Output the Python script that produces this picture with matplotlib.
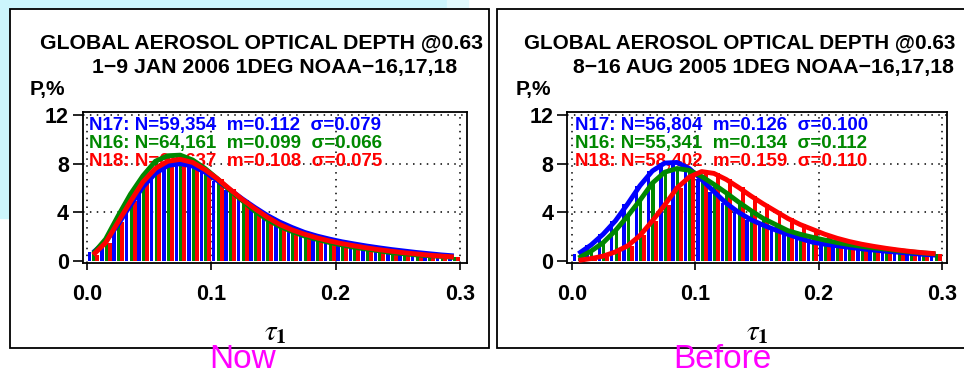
import matplotlib.pyplot as plt
from matplotlib.patches import Rectangle

plt.rcParams['font.family'] = 'Liberation Sans'
plt.rcParams['mathtext.fontset'] = 'stix'

W, H = 964, 375

# bin centres (tau_1)
tau = [0.005, 0.015, 0.025, 0.035, 0.045, 0.055, 0.065, 0.075, 0.085, 0.095,
       0.105, 0.115, 0.125, 0.135, 0.145, 0.155, 0.165, 0.175, 0.185, 0.195,
       0.205, 0.215, 0.225, 0.235, 0.245, 0.255, 0.265, 0.275, 0.285, 0.295]

# Now: 1-9 Jan 2006, P in %
now_n17 = [0.7, 1.6, 3.0, 4.6, 6.1, 7.2, 7.85, 8.0, 7.8, 7.3,
           6.6, 5.85, 5.1, 4.4, 3.75, 3.2, 2.75, 2.35, 2.05, 1.8,
           1.58, 1.4, 1.23, 1.08, 0.94, 0.82, 0.7, 0.6, 0.5, 0.42]
now_n16 = [0.6, 1.8, 3.7, 5.5, 7.0, 8.2, 8.65, 8.7, 8.3, 7.6,
           6.75, 5.8, 4.95, 4.1, 3.4, 2.85, 2.42, 2.05, 1.78, 1.52,
           1.32, 1.12, 0.98, 0.84, 0.68, 0.6, 0.5, 0.44, 0.38, 0.3]
now_n18 = [0.5, 1.5, 3.2, 4.9, 6.5, 7.6, 8.2, 8.35, 8.1, 7.5,
           6.75, 5.9, 5.05, 4.3, 3.6, 3.0, 2.55, 2.2, 1.9, 1.65,
           1.43, 1.25, 1.08, 0.93, 0.8, 0.68, 0.58, 0.48, 0.4, 0.33]

# Before: 8-16 Aug 2005
bef_n17 = [0.6, 1.3, 2.2, 3.3, 4.7, 6.2, 7.4, 8.05, 8.1, 7.6,
           6.7, 5.7, 4.75, 4.0, 3.4, 2.95, 2.55, 2.2, 1.85, 1.55,
           1.38, 1.25, 1.12, 1.0, 0.9, 0.8, 0.72, 0.63, 0.55, 0.48]
bef_n16 = [0.25, 0.8, 1.5, 2.5, 3.7, 5.0, 6.4, 7.3, 7.6, 7.45,
           6.95, 6.3, 5.6, 4.85, 4.15, 3.5, 3.0, 2.5, 2.2, 1.95,
           1.72, 1.52, 1.35, 1.2, 1.08, 0.97, 0.85, 0.75, 0.66, 0.58]
bef_n18 = [0.05, 0.2, 0.4, 0.75, 1.25, 2.1, 3.3, 4.6, 6.0, 6.9,
           7.35, 7.2, 6.7, 6.05, 5.35, 4.7, 4.1, 3.5, 3.0, 2.6,
           2.2, 1.87, 1.6, 1.38, 1.2, 1.04, 0.9, 0.78, 0.68, 0.6]

titles = ['GLOBAL AEROSOL OPTICAL DEPTH @0.63', 'GLOBAL AEROSOL OPTICAL DEPTH @0.63']
subtitles = ['1\u22129 JAN 2006 1DEG NOAA\u221216,17,18', '8\u221216 AUG 2005 1DEG NOAA\u221216,17,18']
now_stats = ['N17: N=59,354  m=0.112  \u03c3=0.079',
             'N16: N=64,161  m=0.099  \u03c3=0.066',
             'N18: N=64,637  m=0.108  \u03c3=0.075']
bef_stats = ['N17: N=56,804  m=0.126  \u03c3=0.100',
             'N16: N=55,341  m=0.134  \u03c3=0.112',
             'N18: N=58,402  m=0.159  \u03c3=0.110']
captions = ['Now', 'Before']

colors = ['#0000ff', '#008800', '#ff0000']
bar_off = [-0.0045, -0.0007, 0.0017]
bar_w = [0.0028, 0.0025, 0.0032]


def fx(x):
    return x / W


def fy(y):
    return 1 - y / H


fig = plt.figure(figsize=(9.64, 3.75), dpi=100)
fig.patches.append(Rectangle((0, fy(218)), fx(447), 218 / H, transform=fig.transFigure,
                             color='#ccf5fc', zorder=-3))
fig.patches.append(Rectangle((fx(447), fy(9)), fx(21), 9 / H, transform=fig.transFigure,
                             color='#e2fafd', zorder=-3))

# panel frames
for x0, x1 in [(10, 489.5), (497, 975)]:
    fig.patches.append(Rectangle((fx(x0), fy(348)), fx(x1 - x0), 339 / H, transform=fig.transFigure,
                                 facecolor='white', edgecolor='black', lw=1.3, zorder=-2))

panels = [
    dict(ax=[83, 384], xlim=(-0.0032, 0.3056), series=[now_n17, now_n16, now_n18], stats=now_stats,
         stat_x=89, t1=40, t2=92, p=30, tau_x=275, cap_x=243, tsize=15.3),
    dict(ax=[567.3, 380], xlim=(-0.0041, 0.3046), series=[bef_n17, bef_n16, bef_n18], stats=bef_stats,
         stat_x=575, t1=524, t2=573, p=516, tau_x=757, cap_x=722, tsize=14.9),
]

for i, pn in enumerate(panels):
    ax = fig.add_axes([fx(pn['ax'][0]), fy(263), fx(pn['ax'][1]), 151.3 / H])
    ax.set_zorder(1)
    ax.set_facecolor('none')
    ax.set_xlim(pn['xlim'])
    ax.set_ylim(-0.164, 12.27)

    for xv in [0.0, 0.1, 0.2, 0.3]:
        ax.axvline(xv, color='k', ls=(0, (1, 3.5)), lw=1.1, zorder=1)
    for yv in [4, 8, 12]:
        ax.axhline(yv, color='k', ls=(0, (1, 3.5)), lw=1.1, zorder=1)

    for j, vals in enumerate(pn['series']):
        ax.bar([t + bar_off[j] for t in tau], vals, width=bar_w[j], align='edge',
               color=colors[j], lw=0, zorder=2)
    for j, vals in enumerate(pn['series']):
        ax.plot(tau, vals, color=colors[j], lw=3.5, solid_capstyle='butt', zorder=3)

    for j, s in enumerate(pn['stats']):
        ax.text(fx(pn['stat_x']), fy(130 + 18 * j), s, color=colors[j], fontsize=13.5,
                fontweight='bold', transform=fig.transFigure, va='baseline', zorder=2.5)

    ax.set_xticks([0.0, 0.1, 0.2, 0.3])
    ax.set_xticklabels(['0.0', '0.1', '0.2', '0.3'])
    ax.set_yticks([0, 4, 8, 12])
    ax.tick_params(axis='x', direction='out', length=5, width=1.2, pad=10, labelsize=15.5)
    ax.tick_params(axis='y', direction='out', length=7, width=1.2, pad=3, labelsize=15.5)
    for lbl in ax.get_xticklabels() + ax.get_yticklabels():
        lbl.set_fontweight('bold')
    for sp in ax.spines.values():
        sp.set_linewidth(1.3)

    fig.text(fx(pn['t1']), fy(48), titles[i], fontsize=pn['tsize'], fontweight='bold', va='baseline')
    fig.text(fx(pn['t2']), fy(73), subtitles[i], fontsize=15.3, fontweight='bold', va='baseline')
    fig.text(fx(pn['p']), fy(95), 'P,%', fontsize=15, fontweight='bold', va='baseline')
    fig.text(fx(pn['tau_x']), fy(332), r'$\tau_{\mathbf{1}}$', fontsize=21, ha='center', va='center')
    fig.text(fx(pn['cap_x']), fy(368), captions[i], color='#ff00ff', fontsize=24,
             ha='center', va='baseline')

fig.savefig('out.png', dpi=100)
